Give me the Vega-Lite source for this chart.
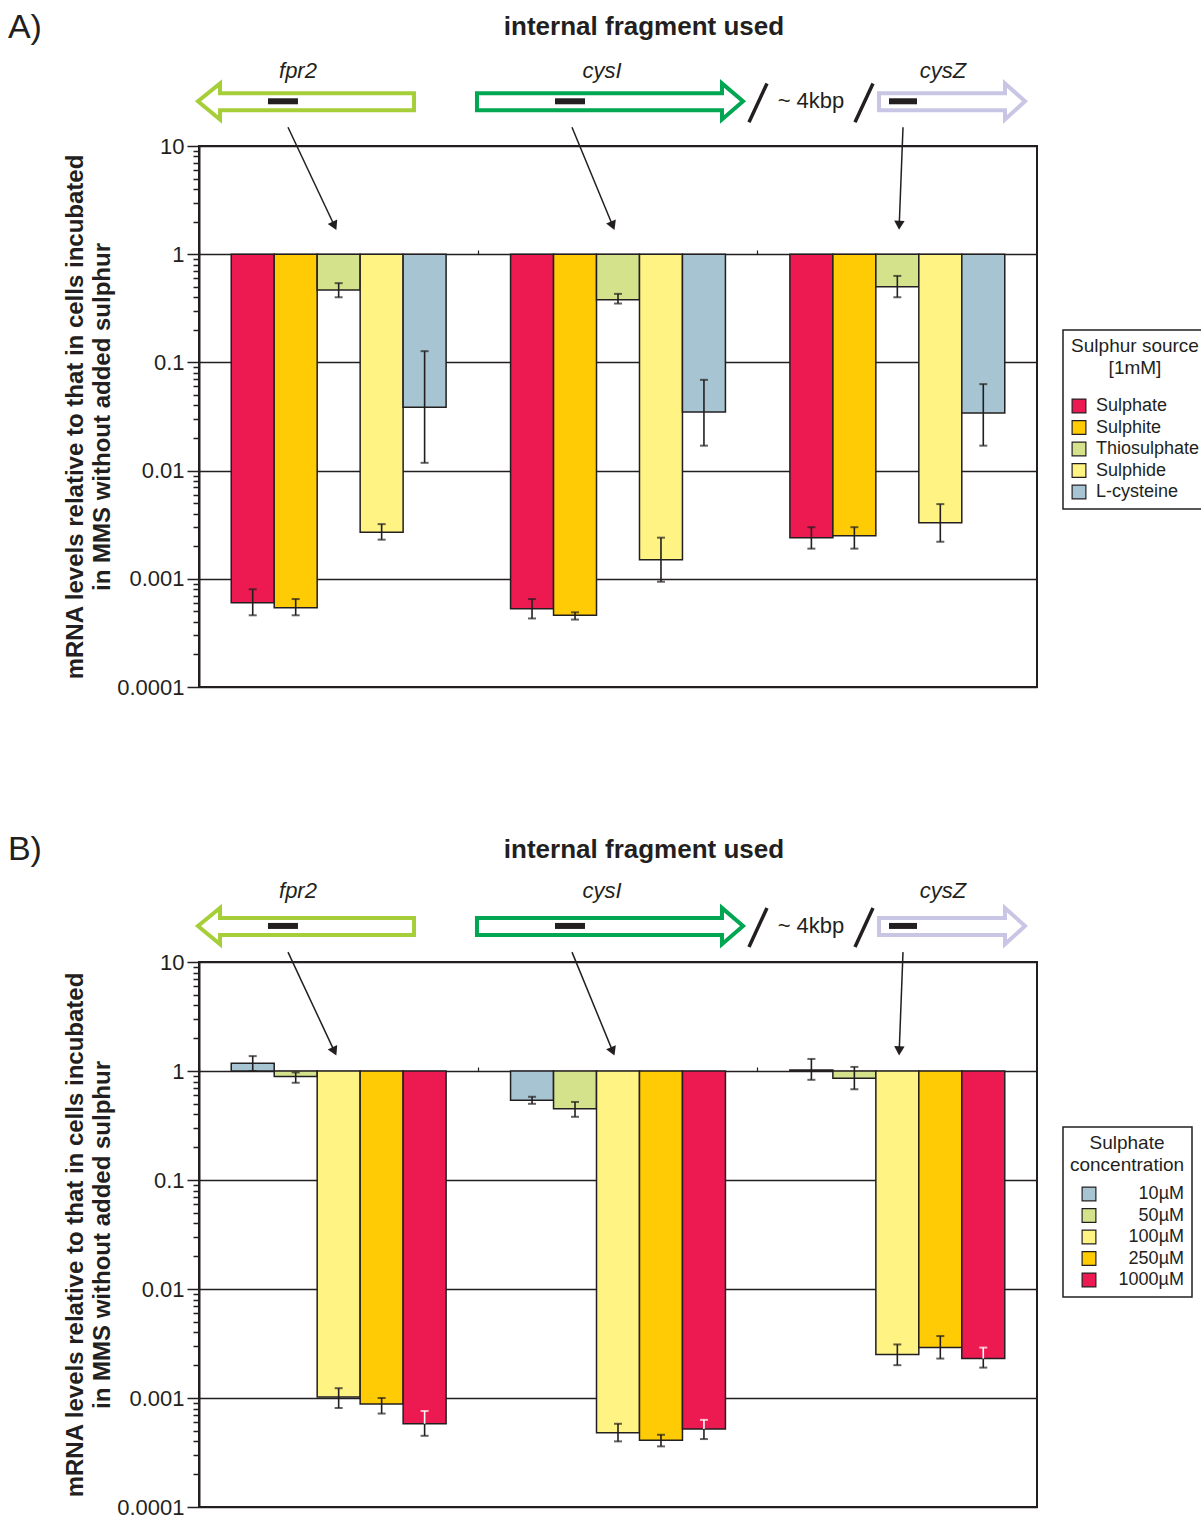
{
  "$schema": "https://vega.github.io/schema/vega-lite/v6.json",
  "padding": {"left": 6, "top": 10, "right": 0, "bottom": 2},
  "datasets": {
    "A": [
      {"gene": "fpr2", "source": "Sulphate", "value": 0.0006, "lo": 0.00046, "hi": 0.0008},
      {"gene": "fpr2", "source": "Sulphite", "value": 0.00054, "lo": 0.00046, "hi": 0.00065},
      {"gene": "fpr2", "source": "Thiosulphate", "value": 0.466, "lo": 0.40, "hi": 0.54},
      {"gene": "fpr2", "source": "Sulphide", "value": 0.0027, "lo": 0.0023, "hi": 0.0032},
      {"gene": "fpr2", "source": "L-cysteine", "value": 0.0386, "lo": 0.0118, "hi": 0.127},
      {"gene": "cysI", "source": "Sulphate", "value": 0.00053, "lo": 0.00043, "hi": 0.00065},
      {"gene": "cysI", "source": "Sulphite", "value": 0.00046, "lo": 0.00042, "hi": 0.00049},
      {"gene": "cysI", "source": "Thiosulphate", "value": 0.38, "lo": 0.35, "hi": 0.43},
      {"gene": "cysI", "source": "Sulphide", "value": 0.0015, "lo": 0.00094, "hi": 0.0024},
      {"gene": "cysI", "source": "L-cysteine", "value": 0.0348, "lo": 0.017, "hi": 0.069},
      {"gene": "cysZ", "source": "Sulphate", "value": 0.0024, "lo": 0.0019, "hi": 0.003},
      {"gene": "cysZ", "source": "Sulphite", "value": 0.0025, "lo": 0.0019, "hi": 0.003},
      {"gene": "cysZ", "source": "Thiosulphate", "value": 0.5, "lo": 0.40, "hi": 0.63},
      {"gene": "cysZ", "source": "Sulphide", "value": 0.0033, "lo": 0.0022, "hi": 0.0049},
      {"gene": "cysZ", "source": "L-cysteine", "value": 0.034, "lo": 0.017, "hi": 0.063}
    ],
    "B": [
      {"gene": "fpr2", "source": "10µM", "value": 1.18, "lo": 1.0, "hi": 1.37},
      {"gene": "fpr2", "source": "50µM", "value": 0.89, "lo": 0.78, "hi": 0.97},
      {"gene": "fpr2", "source": "100µM", "value": 0.00102, "lo": 0.00081, "hi": 0.00123},
      {"gene": "fpr2", "source": "250µM", "value": 0.00088, "lo": 0.00072, "hi": 0.001},
      {"gene": "fpr2", "source": "1000µM", "value": 0.00058, "lo": 0.00045, "hi": 0.00076},
      {"gene": "cysI", "source": "10µM", "value": 0.54, "lo": 0.50, "hi": 0.58},
      {"gene": "cysI", "source": "50µM", "value": 0.45, "lo": 0.38, "hi": 0.52},
      {"gene": "cysI", "source": "100µM", "value": 0.00048, "lo": 0.0004, "hi": 0.00058},
      {"gene": "cysI", "source": "250µM", "value": 0.00041, "lo": 0.00036, "hi": 0.00046},
      {"gene": "cysI", "source": "1000µM", "value": 0.00052, "lo": 0.00042, "hi": 0.00063},
      {"gene": "cysZ", "source": "10µM", "value": 1.02, "lo": 0.83, "hi": 1.29},
      {"gene": "cysZ", "source": "50µM", "value": 0.86, "lo": 0.68, "hi": 1.09},
      {"gene": "cysZ", "source": "100µM", "value": 0.0025, "lo": 0.002, "hi": 0.0031},
      {"gene": "cysZ", "source": "250µM", "value": 0.0029, "lo": 0.0023, "hi": 0.0037},
      {"gene": "cysZ", "source": "1000µM", "value": 0.0023, "lo": 0.0019, "hi": 0.0029}
    ],
    "outline": [
      {"gene": "fpr2", "ord": 0, "x": 14, "y": 30.7},
      {"gene": "fpr2", "ord": 1, "x": 25.66, "y": 30.7},
      {"gene": "fpr2", "ord": 2, "x": 25.66, "y": 21.4},
      {"gene": "fpr2", "ord": 3, "x": 2.51, "y": 21.4},
      {"gene": "fpr2", "ord": 4, "x": 2.51, "y": 17.6},
      {"gene": "fpr2", "ord": 5, "x": -0.12, "y": 25.9},
      {"gene": "fpr2", "ord": 6, "x": 2.51, "y": 37.9},
      {"gene": "fpr2", "ord": 7, "x": 2.51, "y": 30.7},
      {"gene": "fpr2", "ord": 8, "x": 14, "y": 30.7},
      {"gene": "cysI", "ord": 0, "x": 48, "y": 30.7},
      {"gene": "cysI", "ord": 1, "x": 62.41, "y": 30.7},
      {"gene": "cysI", "ord": 2, "x": 62.41, "y": 37.9},
      {"gene": "cysI", "ord": 3, "x": 64.92, "y": 25.9},
      {"gene": "cysI", "ord": 4, "x": 62.41, "y": 17.6},
      {"gene": "cysI", "ord": 5, "x": 62.41, "y": 21.4},
      {"gene": "cysI", "ord": 6, "x": 33.17, "y": 21.4},
      {"gene": "cysI", "ord": 7, "x": 33.17, "y": 30.7},
      {"gene": "cysI", "ord": 8, "x": 48, "y": 30.7},
      {"gene": "cysZ", "ord": 0, "x": 88, "y": 30.7},
      {"gene": "cysZ", "ord": 1, "x": 96.18, "y": 30.7},
      {"gene": "cysZ", "ord": 2, "x": 96.18, "y": 37.9},
      {"gene": "cysZ", "ord": 3, "x": 98.57, "y": 25.9},
      {"gene": "cysZ", "ord": 4, "x": 96.18, "y": 17.6},
      {"gene": "cysZ", "ord": 5, "x": 96.18, "y": 21.4},
      {"gene": "cysZ", "ord": 6, "x": 81.15, "y": 21.4},
      {"gene": "cysZ", "ord": 7, "x": 81.15, "y": 30.7},
      {"gene": "cysZ", "ord": 8, "x": 88, "y": 30.7}
    ],
    "dashes": [
      {"gene": "fpr2", "x1": 8.23, "x2": 11.81},
      {"gene": "cysI", "x1": 42.48, "x2": 46.06},
      {"gene": "cysZ", "x1": 82.34, "x2": 85.68}
    ],
    "slashes": [
      {"x1": 65.63, "y1": 16.6, "x2": 67.78, "y2": 37.9},
      {"x1": 78.28, "y1": 16.6, "x2": 80.43, "y2": 37.9}
    ],
    "pointers": [
      {"gene": "fpr2", "x1": 10.62, "y1": 14.9, "x2": 16.16, "y2": 1.83, "angle": -25.2},
      {"gene": "cysI", "x1": 44.51, "y1": 14.9, "x2": 49.37, "y2": 1.83, "angle": -22.5},
      {"gene": "cysZ", "x1": 84.01, "y1": 14.9, "x2": 83.56, "y2": 1.85, "angle": 2.2}
    ],
    "genelabels": [
      {"label": "fpr2", "x": 11.81},
      {"label": "cysI", "x": 48.09},
      {"label": "cysZ", "x": 88.78}
    ]
  },
  "vconcat": [
    {
      "width": 838,
      "height": 541,
      "layer": [
        {
          "data": {"name": "A"},
          "layer": [
            {
              "mark": {"type": "bar", "stroke": "#231f20", "strokeWidth": 1.5},
              "encoding": {
                "x": {"field": "gene", "type": "nominal", "scale": {"domain": ["fpr2", "cysI", "cysZ"], "paddingInner": 0, "paddingOuter": 0},
                      "axis": {"orient": "bottom", "offset": -433, "bandPosition": 0, "labels": false, "domain": false, "ticks": true, "tickSize": -4, "tickColor": "#231f20", "tickWidth": 1.2, "title": null, "grid": false}},
                "xOffset": {"field": "source", "type": "nominal", "scale": {"domain": ["Sulphate", "Sulphite", "Thiosulphate", "Sulphide", "L-cysteine"], "paddingInner": 0, "paddingOuter": 0.75}},
                "y": {"field": "value", "type": "quantitative", "scale": {"type": "log", "domain": [0.0001, 10], "nice": false},
                      "axis": {"title": ["mRNA levels relative to that in cells incubated", "in MMS without added sulphur"],
                               "values": [0.0001,0.0002,0.0003,0.0004,0.0005,0.0006,0.0007,0.0008,0.0009,0.001,0.002,0.003,0.004,0.005,0.006,0.007,0.008,0.009,0.01,0.02,0.03,0.04,0.05,0.06,0.07,0.08,0.09,0.1,0.2,0.3,0.4,0.5,0.6,0.7,0.8,0.9,1,2,3,4,5,6,7,8,9,10],
                               "format": "~g",
                               "labelExpr": "abs(log(datum.value)/LN10 - round(log(datum.value)/LN10)) < 0.001 ? datum.label : ''",
                               "tickSize": {"condition": {"test": "abs(log(datum.value)/LN10 - round(log(datum.value)/LN10)) < 0.001", "value": 12}, "value": 6},
                               "gridOpacity": {"condition": {"test": "abs(log(datum.value)/LN10 - round(log(datum.value)/LN10)) < 0.001", "value": 1}, "value": 0}}},
                "y2": {"datum": 1},
                "fill": {"field": "source", "type": "nominal",
                         "scale": {"domain": ["Sulphate", "Sulphite", "Thiosulphate", "Sulphide", "L-cysteine"], "range": ["#ed1a52", "#ffcb05", "#d4e38b", "#fff384", "#a7c4d2"]},
                         "legend": {"title": ["Sulphur source", "[1mM]"], "orient": "none", "legendX": 864, "legendY": 184, "titlePadding": 19}}
              }
            },
            {
              "mark": {"type": "rule", "strokeWidth": 1.6},
              "encoding": {
                "x": {"field": "gene", "type": "nominal"},
                "xOffset": {"field": "source", "type": "nominal"},
                "y": {"field": "lo", "type": "quantitative"},
                "y2": {"field": "value"},
                "color": {"value": "#231f20"}
              }
            },
            {
              "mark": {"type": "rule", "strokeWidth": 1.6},
              "encoding": {
                "x": {"field": "gene", "type": "nominal"},
                "xOffset": {"field": "source", "type": "nominal"},
                "y": {"field": "value", "type": "quantitative"},
                "y2": {"field": "hi"},
                "color": {"condition": {"test": "datum.source === '1000µM'", "value": "#ffffff"}, "value": "#231f20"}
              }
            },
            {
              "mark": {"type": "tick", "size": 8, "thickness": 2},
              "encoding": {
                "x": {"field": "gene", "type": "nominal"},
                "xOffset": {"field": "source", "type": "nominal"},
                "y": {"field": "lo", "type": "quantitative"},
                "color": {"value": "#231f20"}
              }
            },
            {
              "mark": {"type": "tick", "size": 8, "thickness": 2},
              "encoding": {
                "x": {"field": "gene", "type": "nominal"},
                "xOffset": {"field": "source", "type": "nominal"},
                "y": {"field": "hi", "type": "quantitative"},
                "color": {"condition": {"test": "datum.source === '1000µM'", "value": "#ffffff"}, "value": "#231f20"}
              }
            }
          ]
        },
        {
          "layer": [
            {
              "data": {"name": "outline"},
              "mark": {"type": "line", "strokeWidth": 4, "strokeJoin": "miter", "strokeCap": "square"},
              "encoding": {
                "x": {"field": "x", "type": "quantitative", "scale": {"domain": [0, 100], "nice": false, "zero": false}, "axis": null},
                "y": {"field": "y", "type": "quantitative", "scale": {"type": "log", "domain": [0.0001, 10], "nice": false}, "axis": null},
                "order": {"field": "ord", "type": "quantitative"},
                "stroke": {"field": "gene", "type": "nominal", "scale": {"domain": ["fpr2", "cysI", "cysZ"], "range": ["#a6ce39", "#00a651", "#c9c6e5"]}, "legend": null}
              }
            },
            {
              "data": {"name": "dashes"},
              "mark": {"type": "rule", "strokeWidth": 6, "color": "#231f20"},
              "encoding": {
                "x": {"field": "x1", "type": "quantitative"},
                "x2": {"field": "x2"},
                "y": {"datum": 25.9}
              }
            },
            {
              "data": {"name": "slashes"},
              "mark": {"type": "rule", "strokeWidth": 3.5, "color": "#231f20"},
              "encoding": {
                "x": {"field": "x1", "type": "quantitative"},
                "x2": {"field": "x2"},
                "y": {"field": "y1", "type": "quantitative"},
                "y2": {"field": "y2"}
              }
            },
            {
              "data": {"name": "pointers"},
              "mark": {"type": "rule", "strokeWidth": 1.5, "color": "#231f20"},
              "encoding": {
                "x": {"field": "x1", "type": "quantitative"},
                "x2": {"field": "x2"},
                "y": {"field": "y1", "type": "quantitative"},
                "y2": {"field": "y2"}
              }
            },
            {
              "data": {"name": "pointers"},
              "mark": {"type": "point", "shape": "triangle-down", "filled": true, "size": 110, "color": "#231f20", "opacity": 1},
              "encoding": {
                "x": {"field": "x2", "type": "quantitative"},
                "y": {"field": "y2", "type": "quantitative"},
                "angle": {"field": "angle", "type": "quantitative", "scale": null}
              }
            },
            {
              "data": {"name": "genelabels"},
              "mark": {"type": "text", "fontSize": 22, "fontStyle": "italic", "baseline": "middle", "align": "center", "color": "#231f20"},
              "encoding": {
                "x": {"field": "x", "type": "quantitative"},
                "y": {"datum": 49},
                "text": {"field": "label"}
              }
            },
            {
              "data": {"values": [{}]},
              "mark": {"type": "text", "text": "~ 4kbp", "fontSize": 22, "baseline": "middle", "align": "center", "color": "#231f20"},
              "encoding": {"x": {"datum": 73.03}, "y": {"datum": 25.9}}
            },
            {
              "data": {"values": [{}]},
              "mark": {"type": "text", "text": "internal fragment used", "fontSize": 26, "fontWeight": "bold", "baseline": "middle", "align": "center", "color": "#231f20"},
              "encoding": {"x": {"datum": 53.1}, "y": {"datum": 126}}
            },
            {
              "data": {"values": [{}]},
              "mark": {"type": "text", "text": "A)", "fontSize": 34, "baseline": "middle", "align": "left", "color": "#231f20"},
              "encoding": {"x": {"datum": -22.8}, "y": {"datum": 122}}
            }
          ]
        }
      ],
      "resolve": {"scale": {"x": "independent", "y": "independent"}}
    },
    {
      "width": 838,
      "height": 545,
      "layer": [
        {
          "data": {"name": "B"},
          "layer": [
            {
              "mark": {"type": "bar", "stroke": "#231f20", "strokeWidth": 1.5},
              "encoding": {
                "x": {"field": "gene", "type": "nominal", "scale": {"domain": ["fpr2", "cysI", "cysZ"], "paddingInner": 0, "paddingOuter": 0},
                      "axis": {"orient": "bottom", "offset": -436, "bandPosition": 0, "labels": false, "domain": false, "ticks": true, "tickSize": -4, "tickColor": "#231f20", "tickWidth": 1.2, "title": null, "grid": false}},
                "xOffset": {"field": "source", "type": "nominal", "scale": {"domain": ["10µM", "50µM", "100µM", "250µM", "1000µM"], "paddingInner": 0, "paddingOuter": 0.75}},
                "y": {"field": "value", "type": "quantitative", "scale": {"type": "log", "domain": [0.0001, 10], "nice": false},
                      "axis": {"title": ["mRNA levels relative to that in cells incubated", "in MMS without added sulphur"],
                               "values": [0.0001,0.0002,0.0003,0.0004,0.0005,0.0006,0.0007,0.0008,0.0009,0.001,0.002,0.003,0.004,0.005,0.006,0.007,0.008,0.009,0.01,0.02,0.03,0.04,0.05,0.06,0.07,0.08,0.09,0.1,0.2,0.3,0.4,0.5,0.6,0.7,0.8,0.9,1,2,3,4,5,6,7,8,9,10],
                               "format": "~g",
                               "labelExpr": "abs(log(datum.value)/LN10 - round(log(datum.value)/LN10)) < 0.001 ? datum.label : ''",
                               "tickSize": {"condition": {"test": "abs(log(datum.value)/LN10 - round(log(datum.value)/LN10)) < 0.001", "value": 12}, "value": 6},
                               "gridOpacity": {"condition": {"test": "abs(log(datum.value)/LN10 - round(log(datum.value)/LN10)) < 0.001", "value": 1}, "value": 0}}},
                "y2": {"datum": 1},
                "fill": {"field": "source", "type": "nominal",
                         "scale": {"domain": ["10µM", "50µM", "100µM", "250µM", "1000µM"], "range": ["#a7c4d2", "#d4e38b", "#fff384", "#ffcb05", "#ed1a52"]},
                         "legend": {"title": ["Sulphate", "concentration"], "orient": "none", "legendX": 864, "legendY": 165, "labelAlign": "right", "labelOffset": 86, "symbolOffset": 10, "titlePadding": 10}}
              }
            },
            {
              "mark": {"type": "rule", "strokeWidth": 1.6},
              "encoding": {
                "x": {"field": "gene", "type": "nominal"},
                "xOffset": {"field": "source", "type": "nominal"},
                "y": {"field": "lo", "type": "quantitative"},
                "y2": {"field": "value"},
                "color": {"value": "#231f20"}
              }
            },
            {
              "mark": {"type": "rule", "strokeWidth": 1.6},
              "encoding": {
                "x": {"field": "gene", "type": "nominal"},
                "xOffset": {"field": "source", "type": "nominal"},
                "y": {"field": "value", "type": "quantitative"},
                "y2": {"field": "hi"},
                "color": {"condition": {"test": "datum.source === '1000µM'", "value": "#ffffff"}, "value": "#231f20"}
              }
            },
            {
              "mark": {"type": "tick", "size": 8, "thickness": 2},
              "encoding": {
                "x": {"field": "gene", "type": "nominal"},
                "xOffset": {"field": "source", "type": "nominal"},
                "y": {"field": "lo", "type": "quantitative"},
                "color": {"value": "#231f20"}
              }
            },
            {
              "mark": {"type": "tick", "size": 8, "thickness": 2},
              "encoding": {
                "x": {"field": "gene", "type": "nominal"},
                "xOffset": {"field": "source", "type": "nominal"},
                "y": {"field": "hi", "type": "quantitative"},
                "color": {"condition": {"test": "datum.source === '1000µM'", "value": "#ffffff"}, "value": "#231f20"}
              }
            }
          ]
        },
        {
          "layer": [
            {
              "data": {"name": "outline"},
              "mark": {"type": "line", "strokeWidth": 4, "strokeJoin": "miter", "strokeCap": "square"},
              "encoding": {
                "x": {"field": "x", "type": "quantitative", "scale": {"domain": [0, 100], "nice": false, "zero": false}, "axis": null},
                "y": {"field": "y", "type": "quantitative", "scale": {"type": "log", "domain": [0.0001209, 12.09], "nice": false}, "axis": null},
                "order": {"field": "ord", "type": "quantitative"},
                "stroke": {"field": "gene", "type": "nominal", "scale": {"domain": ["fpr2", "cysI", "cysZ"], "range": ["#a6ce39", "#00a651", "#c9c6e5"]}, "legend": null}
              }
            },
            {
              "data": {"name": "dashes"},
              "mark": {"type": "rule", "strokeWidth": 6, "color": "#231f20"},
              "encoding": {
                "x": {"field": "x1", "type": "quantitative"},
                "x2": {"field": "x2"},
                "y": {"datum": 25.9}
              }
            },
            {
              "data": {"name": "slashes"},
              "mark": {"type": "rule", "strokeWidth": 3.5, "color": "#231f20"},
              "encoding": {
                "x": {"field": "x1", "type": "quantitative"},
                "x2": {"field": "x2"},
                "y": {"field": "y1", "type": "quantitative"},
                "y2": {"field": "y2"}
              }
            },
            {
              "data": {"name": "pointers"},
              "mark": {"type": "rule", "strokeWidth": 1.5, "color": "#231f20"},
              "encoding": {
                "x": {"field": "x1", "type": "quantitative"},
                "x2": {"field": "x2"},
                "y": {"field": "y1", "type": "quantitative"},
                "y2": {"field": "y2"}
              }
            },
            {
              "data": {"name": "pointers"},
              "mark": {"type": "point", "shape": "triangle-down", "filled": true, "size": 110, "color": "#231f20", "opacity": 1},
              "encoding": {
                "x": {"field": "x2", "type": "quantitative"},
                "y": {"field": "y2", "type": "quantitative"},
                "angle": {"field": "angle", "type": "quantitative", "scale": null}
              }
            },
            {
              "data": {"name": "genelabels"},
              "mark": {"type": "text", "fontSize": 22, "fontStyle": "italic", "baseline": "middle", "align": "center", "color": "#231f20"},
              "encoding": {
                "x": {"field": "x", "type": "quantitative"},
                "y": {"datum": 54},
                "text": {"field": "label"}
              }
            },
            {
              "data": {"values": [{}]},
              "mark": {"type": "text", "text": "~ 4kbp", "fontSize": 22, "baseline": "middle", "align": "center", "color": "#231f20"},
              "encoding": {"x": {"datum": 73.03}, "y": {"datum": 25.9}}
            },
            {
              "data": {"values": [{}]},
              "mark": {"type": "text", "text": "internal fragment used", "fontSize": 26, "fontWeight": "bold", "baseline": "middle", "align": "center", "color": "#231f20"},
              "encoding": {"x": {"datum": 53.1}, "y": {"datum": 130}}
            },
            {
              "data": {"values": [{}]},
              "mark": {"type": "text", "text": "B)", "fontSize": 34, "baseline": "middle", "align": "left", "color": "#231f20"},
              "encoding": {"x": {"datum": -22.8}, "y": {"datum": 130}}
            }
          ]
        }
      ],
      "resolve": {"scale": {"x": "independent", "y": "independent"}}
    }
  ],
  "resolve": {"scale": {"fill": "independent", "xOffset": "independent", "color": "independent"}, "legend": {"fill": "independent"}},
  "config": {
    "font": "Liberation Sans",
    "view": {"stroke": "#231f20", "strokeWidth": 2},
    "concat": {"spacing": 132},
    "axis": {
      "domainColor": "#231f20", "domainWidth": 2,
      "tickColor": "#231f20", "tickWidth": 1.5,
      "grid": true, "gridColor": "#231f20", "gridWidth": 1.5,
      "labelFontSize": 22, "labelColor": "#231f20", "labelPadding": 3,
      "titleFontSize": 24, "titleFontWeight": "bold", "titleColor": "#231f20", "titlePadding": 2, "titleLineHeight": 27
    },
    "legend": {
      "strokeColor": "#231f20", "strokeWidth": 1.5, "padding": 7,
      "titleFontSize": 19, "titleFontWeight": "normal", "titleColor": "#231f20", "titleAnchor": "middle", "titleAlign": "center", "titleLineHeight": 22,
      "labelFontSize": 18, "labelColor": "#231f20",
      "symbolType": "square", "symbolSize": 190, "symbolStrokeColor": "#231f20", "symbolStrokeWidth": 1.2, "rowPadding": 1.5, "labelOffset": 8
    }
  }
}
